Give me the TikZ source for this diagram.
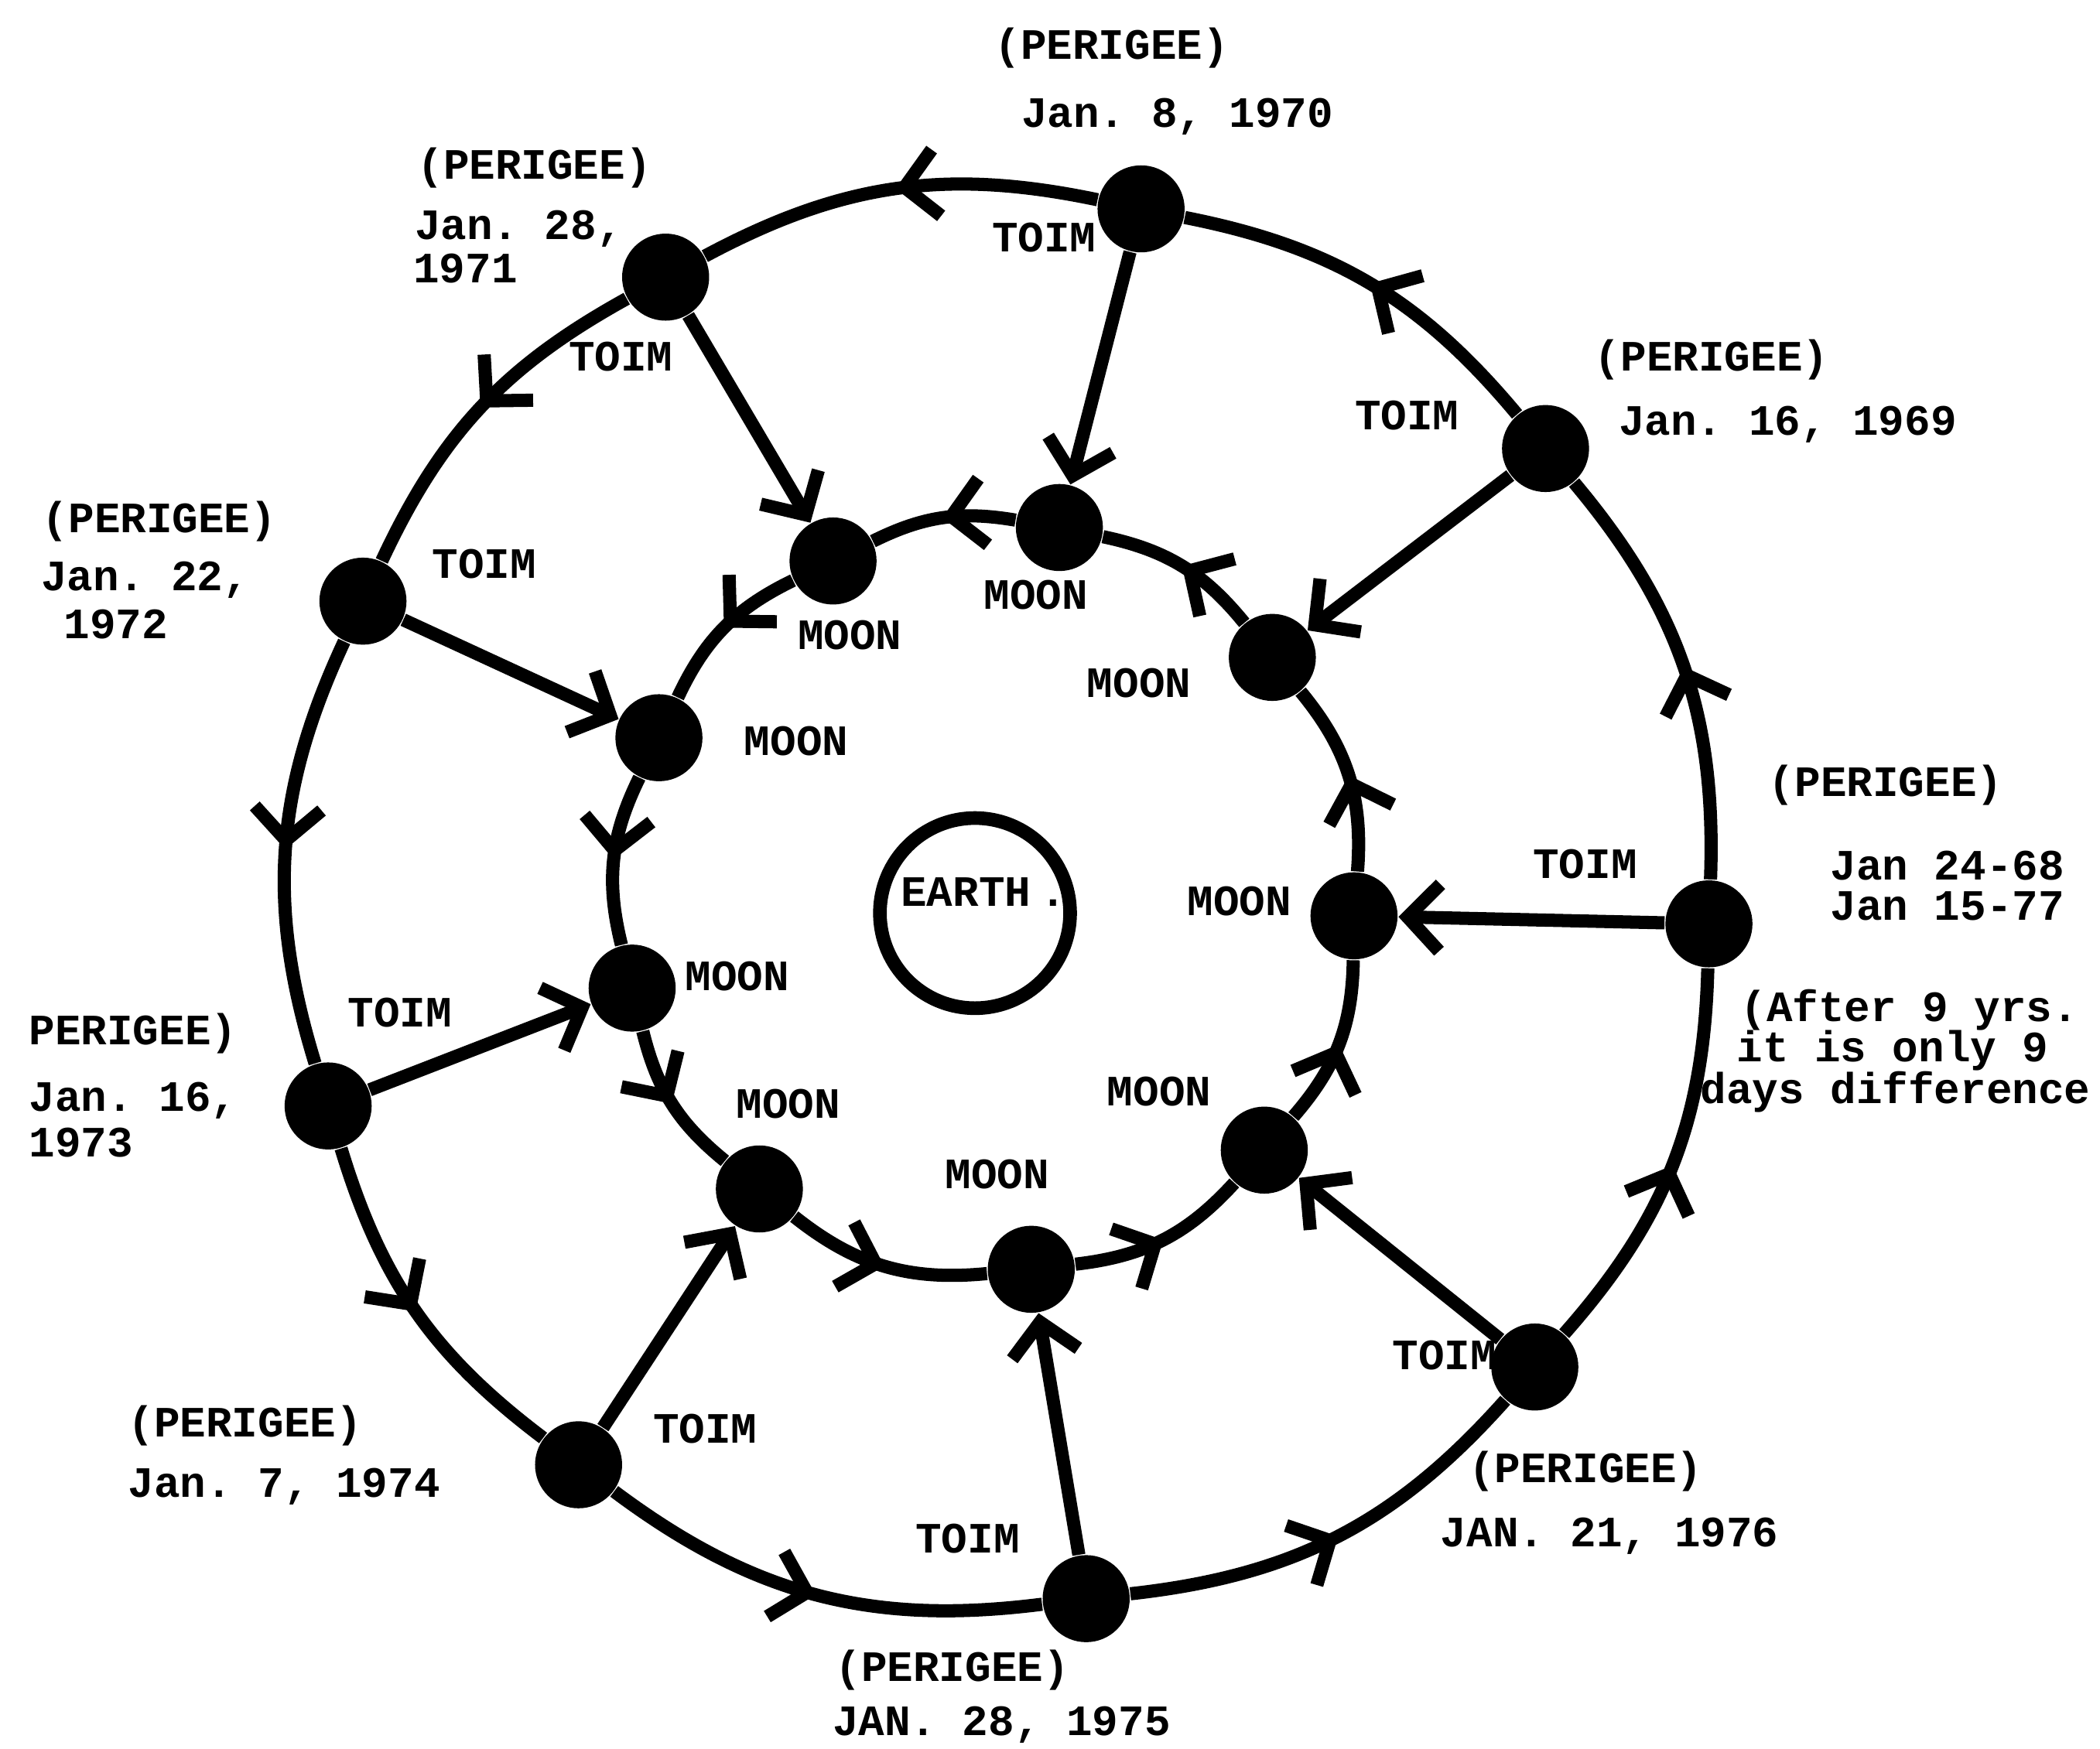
\documentclass[tikz,border=0pt]{standalone}
\usepackage{fontspec}
\setmonofont{Liberation Mono}
\usetikzlibrary{arrows.meta,decorations.markings}

\begin{document}
\begin{tikzpicture}[
  x=0.1mm, y=0.1mm,
  dot/.style={circle, fill=black, inner sep=0pt, minimum size=6.5mm},
  lbl/.style={font=\ttfamily\bfseries\fontsize{9.2}{11}\selectfont, inner sep=0pt, anchor=base west},
  orbit/.style={line width=2.8pt, postaction={decorate},
    decoration={markings, mark=at position 0.5 with {\arrow{Straight Barb[length=2.4mm, width=5mm]}}}},
  toim/.style={-{Straight Barb[length=2.4mm, width=5mm]}, line width=2.8pt}
]
\useasboundingbox (0,0) rectangle (1568,1306);

% perigee positions (outer ring)
\node[dot] (o68) at (1276,616) {};
\node[dot] (o69) at (1154,971) {};
\node[dot] (o70) at (852,1150) {};
\node[dot] (o71) at (497,1099) {};
\node[dot] (o72) at (271,857) {};
\node[dot] (o73) at (245,480) {};
\node[dot] (o74) at (432,212) {};
\node[dot] (o75) at (811,112) {};
\node[dot] (o76) at (1146,285) {};

% moon positions (inner ring)
\node[dot] (m68) at (1011,622) {};
\node[dot] (m69) at (950,815) {};
\node[dot] (m70) at (791,912) {};
\node[dot] (m71) at (622,887) {};
\node[dot] (m72) at (492,755) {};
\node[dot] (m73) at (472,568) {};
\node[dot] (m74) at (567,418) {};
\node[dot] (m75) at (770,358) {};
\node[dot] (m76) at (944,447) {};

% earth
\node[circle, draw, line width=2.9pt, minimum size=14.2mm, inner sep=0pt] (earth) at (728,624) {};
\node[lbl] (earthlbl) at (672,629) {EARTH\kern2pt.};

% outer ring
\draw[orbit] (o68) to[bend right=21] (o69);
\draw[orbit] (o69) to[bend right=19.5] (o70);
\draw[orbit] (o70) to[bend right=20] (o71);
\draw[orbit] (o71) to[bend right=18] (o72);
\draw[orbit] (o72) to[bend right=21] (o73);
\draw[orbit] (o73) to[bend right=18] (o74);
\draw[orbit] (o74) to[bend right=22] (o75);
\draw[orbit] (o75) to[bend right=21] (o76);
\draw[orbit] (o76) to[bend right=20] (o68);

% inner ring
\draw[orbit] (m68) to[bend right=22] (m69);
\draw[orbit] (m69) to[bend right=19.5] (m70);
\draw[orbit] (m70) to[bend right=18] (m71);
\draw[orbit] (m71) to[bend right=19.5] (m72);
\draw[orbit] (m72) to[bend right=20] (m73);
\draw[orbit] (m73) to[bend right=18.5] (m74);
\draw[orbit] (m74) to[bend right=22] (m75);
\draw[orbit] (m75) to[bend right=20.5] (m76);
\draw[orbit] (m76) to[bend right=20] (m68);

% perigee to moon
\draw[toim] (o68) -- (m68);
\draw[toim] (o69) -- (m69);
\draw[toim] (o70) -- (m70);
\draw[toim] (o71) -- (m71);
\draw[toim] (o72) -- (m72);
\draw[toim] (o73) -- (m73);
\draw[toim] (o74) -- (m74);
\draw[toim] (o75) -- (m75);
\draw[toim] (o76) -- (m76);

% TOIM labels
\node[lbl] (t68) at (1144,650) {TOIM};
\node[lbl] (t69) at (1011,985) {TOIM};
\node[lbl] (t70) at (740,1118) {TOIM};
\node[lbl] (t71) at (424,1029) {TOIM};
\node[lbl] (t72) at (322,874) {TOIM};
\node[lbl] (t73) at (259,539) {TOIM};
\node[lbl] (t74) at (487,228) {TOIM};
\node[lbl] (t75) at (683,146) {TOIM};
\node[lbl] (t76) at (1039,283) {TOIM};

% MOON labels
\node[lbl] (n68) at (886,622) {MOON};
\node[lbl] (n69) at (811,785) {MOON};
\node[lbl] (n70) at (734,851) {MOON};
\node[lbl] (n71) at (595,821) {MOON};
\node[lbl] (n72) at (555,742) {MOON};
\node[lbl] (n73) at (511,566) {MOON};
\node[lbl] (n74) at (549,471) {MOON};
\node[lbl] (n75) at (705,418) {MOON};
\node[lbl] (n76) at (826,480) {MOON};

% dates
\node[lbl] (p68) at (1320,711) {(PERIGEE)};
\node[lbl] (d68a) at (1366,649) {Jan 24-68};
\node[lbl] (d68b) at (1366,619) {Jan 15-77};
\node[lbl] (r68a) at (1299,543) {(After 9 yrs.};
\node[lbl] (r68b) at (1296,513) {it is only 9};
\node[lbl] (r68c) at (1269,482) {days difference};

\node[lbl] (p69) at (1190,1029) {(PERIGEE)};
\node[lbl] (d69) at (1208,981) {Jan. 16, 1969};

\node[lbl] (p70) at (742,1262) {(PERIGEE)};
\node[lbl] (d70) at (762,1211) {Jan. 8, 1970};

\node[lbl] (p71) at (311,1172) {(PERIGEE)};
\node[lbl] (d71a) at (309,1127) {Jan. 28,};
\node[lbl] (d71b) at (308,1095) {1971};

\node[lbl] (p72) at (31,908) {(PERIGEE)};
\node[lbl] (d72a) at (30,865) {Jan. 22,};
\node[lbl] (d72b) at (47,829) {1972};

\node[lbl] (p73) at (21,526) {PERIGEE)};
\node[lbl] (d73a) at (21,476) {Jan. 16,};
\node[lbl] (d73b) at (21,442) {1973};

\node[lbl] (p74) at (95,233) {(PERIGEE)};
\node[lbl] (d74) at (95,188) {Jan. 7, 1974};

\node[lbl] (p75) at (623,50) {(PERIGEE)};
\node[lbl] (d75) at (621,10) {JAN. 28, 1975};

\node[lbl] (p76) at (1096,199) {(PERIGEE)};
\node[lbl] (d76) at (1075,151) {JAN. 21, 1976};
\end{tikzpicture}
\end{document}
